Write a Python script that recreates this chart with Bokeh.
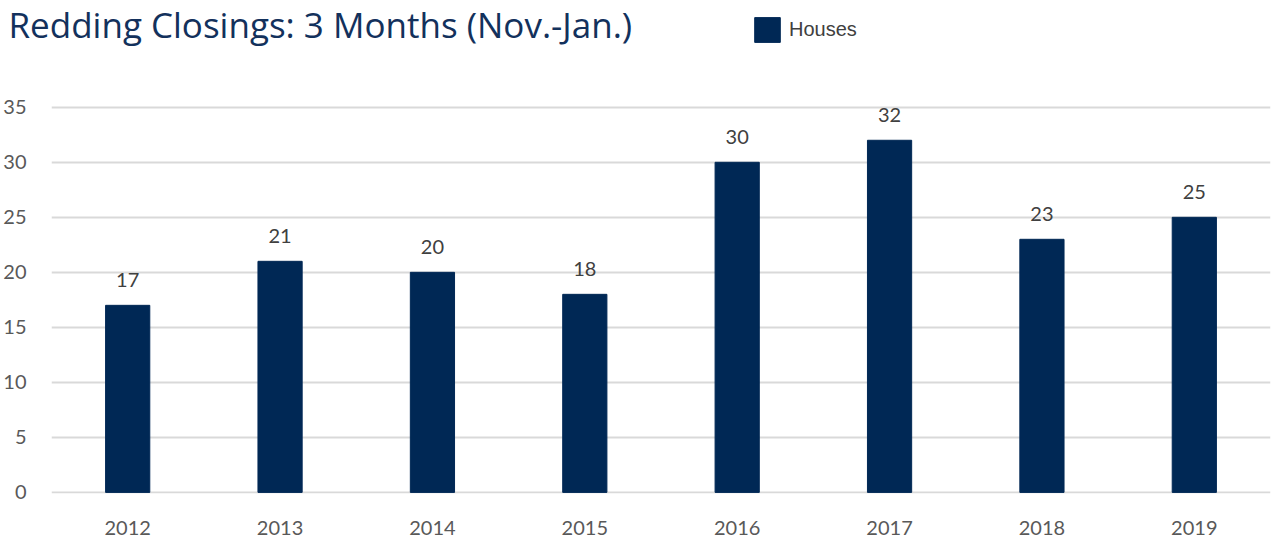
from bokeh.plotting import figure
from bokeh.layouts import column
from bokeh.models import (FactorRange, Range1d, FixedTicker, ColumnDataSource,
                          LabelSet, Label, Legend, LegendItem)
from bokeh.embed import file_html
from bokeh.resources import INLINE
from bokeh.core.properties import value

years = ["2012", "2013", "2014", "2015", "2016", "2017", "2018", "2019"]
houses = [17, 21, 20, 18, 30, 32, 23, 25]
y_ticks = [0, 5, 10, 15, 20, 25, 30, 35]
title_text = "Redding Closings: 3 Months (Nov.-Jan.)"
series_name = "Houses"

NAVY = "#002855"
FONT = "Lato"

src = ColumnDataSource(dict(year=years, houses=houses,
                            label=[str(v) for v in houses]))

# ---------- header: title + legend ----------
head = figure(width=1274, height=60, title=None,
              x_range=FactorRange(factors=years, range_padding=0),
              y_range=Range1d(0, 40),
              x_axis_type=None, y_axis_type=None,
              output_backend="svg", toolbar_location=None,
              min_border_left=0, min_border_right=0,
              min_border_top=0, min_border_bottom=0)
head.frame_align = False
head.outline_line_color = None
head.xgrid.grid_line_color = None
head.ygrid.grid_line_color = None
head_bars = head.vbar(x="year", top="houses", width=0.29, source=src,
                      fill_color=NAVY, line_color=NAVY, visible=False)

title = Label(x=8, y=24, x_units="canvas", y_units="canvas", text=title_text,
              text_font="Open Sans", text_font_size="35px",
              text_color="#13315c", text_baseline="alphabetic")
head.add_layout(title)

legend = Legend(items=[LegendItem(label=series_name, renderers=[head_bars])],
                location=(751, 15), orientation="horizontal",
                glyph_width=32, glyph_height=31, label_height=31,
                label_standoff=6, padding=0, margin=0, spacing=0,
                border_line_color=None, background_fill_alpha=0,
                label_text_font="Liberation Sans", label_text_font_size="20px",
                label_text_color="#404040")
head.add_layout(legend)

# ---------- main chart ----------
p = figure(width=1274, height=477, title=None,
           x_range=FactorRange(factors=years, range_padding=0),
           y_range=Range1d(-0.1, 39.25),
           output_backend="svg", toolbar_location=None,
           min_border_left=51, min_border_right=4,
           min_border_top=0, min_border_bottom=42)
p.frame_align = False
p.outline_line_color = None
p.background_fill_color = "white"
p.border_fill_color = "white"

p.xgrid.grid_line_color = None
p.ygrid.ticker = FixedTicker(ticks=y_ticks)
p.ygrid.grid_line_color = "#d9d9d9"
p.ygrid.grid_line_width = 2

p.yaxis.ticker = FixedTicker(ticks=y_ticks)
for ax in (p.xaxis[0], p.yaxis[0]):
    ax.axis_line_color = None
    ax.major_tick_line_color = None
    ax.minor_tick_line_color = None
    ax.major_label_text_font = FONT
    ax.major_label_text_font_size = "20px"
    ax.major_label_text_color = "#595959"
p.yaxis.major_label_standoff = 19
p.xaxis.major_label_standoff = 21

bars = p.vbar(x="year", top="houses", width=0.29, source=src,
              fill_color=NAVY, line_color=NAVY)

labels = LabelSet(x="year", y="houses", text="label", source=src,
                  y_offset=25, text_align="center", text_baseline="middle",
                  text_font=value(FONT), text_font_size="20px",
                  text_color="#404040")
p.add_layout(labels)

layout = column(head, p, spacing=0)
open("out.html", "w").write(file_html(layout, INLINE))
